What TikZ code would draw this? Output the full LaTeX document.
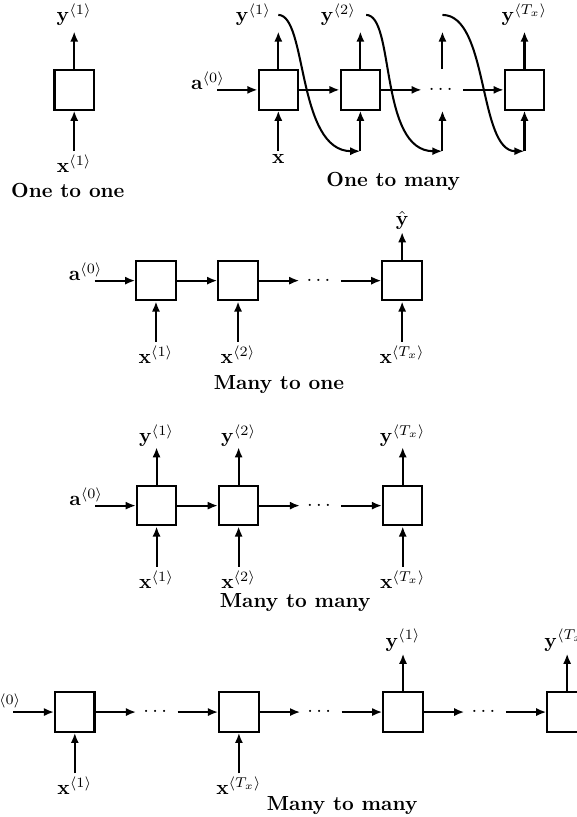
\documentclass[tikz,border=0pt]{standalone}
\usepackage{amsmath}
\usetikzlibrary{positioning,arrows.meta}

\begin{document}
\begin{tikzpicture}[node distance=7mm,
  cell/.style={draw, line width=1pt, minimum size=6.8mm, inner sep=0pt},
  ghost/.style={cell, draw=none},
  arr/.style={-{Latex[length=5pt, width=4pt]}, line width=1pt},
  xlab/.style={inner sep=1.5pt},
  ylab/.style={inner sep=2.5pt},
  title/.style={font=\bfseries, anchor=base},
  azero/.style={anchor=base east, xshift=2.6mm}]
\useasboundingbox (0,0) rectangle (9.95,-14.09);

% one to one
\node[cell] (oo) at (1.28,-1.55) {};
\node[ylab, above=6.5mm of oo] (ooy) {$\mathbf{y}^{\langle 1\rangle}$};
\node[xlab, below=7mm of oo] (oox) {$\mathbf{x}^{\langle 1\rangle}$};
\node[title] (ootitle) at (1.17,-3.40) {One to one};
\draw[arr] (oox) -- (oo);
\draw[arr] (oo) -- (ooy);

% one to many
\node[cell] (om1) at (4.80,-1.55) {};
\node[cell, right=of om1] (om2) {};
\node[ghost, right=of om2] (om3) {$\cdots$};
\node[cell, right=of om3] (om4) {};
\node[ghost, left=of om1] (om0) {};
\node[azero] (oma) at (om0.east) {$\mathbf{a}^{\langle 0\rangle}$};
\node[ylab, above=6.5mm of om1, xshift=-4.3mm] (omy1) {$\mathbf{y}^{\langle 1\rangle}$};
\node[ylab, above=6.5mm of om2, xshift=-3.8mm] (omy2) {$\mathbf{y}^{\langle 2\rangle}$};
\node[ylab, above=6.5mm of om4] (omy4) {$\mathbf{y}^{\langle T_x\rangle}$};
\node[xlab, below=7mm of om1] (omx) {$\mathbf{x}$};
\coordinate[below=7mm of om2] (omb2);
\coordinate[below=7mm of om3] (omb3);
\coordinate[below=7mm of om4] (omb4);
\node[title] (omtitle) at (6.78,-3.22) {One to many};
\draw[arr] (om0) -- (om1);
\draw[arr] (om1) -- (om2);
\draw[arr] (om2) -- (om3);
\draw[arr] (om3) -- (om4);
\draw[arr] (omx) -- (om1);
\draw[arr] (omb2) -- (om2);
\draw[arr] (omb3) -- (om3);
\draw[arr] (omb4) -- (om4);
\draw[arr] (om1) -- (om1 |- omy1.south);
\draw[arr] (om2) -- (om2 |- omy2.south);
\draw[arr] (om3) -- (om3 |- omy4.south);
\draw[arr] (om4) -- (omy4);
% feedback of each output into the next step
\draw[arr] (om1 |- omy1) to[out=0, in=180, out distance=5mm, in distance=11mm] (omb2);
\draw[arr] ([xshift=1mm]om2 |- omy1) to[out=0, in=180, out distance=5mm, in distance=11mm] (omb3);
\draw[arr] (om3 |- omy1) to[out=0, in=180, out distance=8mm, in distance=8mm] (omb4);

% many to one
\node[cell] (mo1) at (2.69,-4.84) {};
\node[cell, right=of mo1] (mo2) {};
\node[ghost, right=of mo2] (mo3) {$\cdots$};
\node[cell, right=of mo3] (mo4) {};
\node[ghost, left=of mo1] (mo0) {};
\node[azero] (moa) at (mo0.east) {$\mathbf{a}^{\langle 0\rangle}$};
\node[xlab, below=7mm of mo1] (mox1) {$\mathbf{x}^{\langle 1\rangle}$};
\node[xlab, below=7mm of mo2] (mox2) {$\mathbf{x}^{\langle 2\rangle}$};
\node[xlab, below=7mm of mo4] (mox4) {$\mathbf{x}^{\langle T_x\rangle}$};
\node[above=4.8mm of mo4, inner sep=1pt] (moy) {$\hat{\mathbf{y}}$};
\node[title] (motitle) at (4.81,-6.72) {Many to one};
\draw[arr] (mo0) -- (mo1);
\draw[arr] (mo1) -- (mo2);
\draw[arr] (mo2) -- (mo3);
\draw[arr] (mo3) -- (mo4);
\draw[arr] (mox1) -- (mo1);
\draw[arr] (mox2) -- (mo2);
\draw[arr] (mox4) -- (mo4);
\draw[arr] (mo4) -- (moy);

% many to many, same length
\node[cell] (ma1) at (2.70,-8.72) {};
\node[cell, right=of ma1] (ma2) {};
\node[ghost, right=of ma2] (ma3) {$\cdots$};
\node[cell, right=of ma3] (ma4) {};
\node[ghost, left=of ma1] (ma0) {};
\node[azero] (maa) at (ma0.east) {$\mathbf{a}^{\langle 0\rangle}$};
\node[xlab, below=7mm of ma1] (max1) {$\mathbf{x}^{\langle 1\rangle}$};
\node[xlab, below=7mm of ma2] (max2) {$\mathbf{x}^{\langle 2\rangle}$};
\node[xlab, below=7mm of ma4] (max4) {$\mathbf{x}^{\langle T_x\rangle}$};
\node[ylab, above=6.5mm of ma1, inner sep=0pt] (may1) {$\mathbf{y}^{\langle 1\rangle}$};
\node[ylab, above=6.5mm of ma2, inner sep=0pt] (may2) {$\mathbf{y}^{\langle 2\rangle}$};
\node[ylab, above=6.5mm of ma4, inner sep=0pt] (may4) {$\mathbf{y}^{\langle T_x\rangle}$};
\node[title] (matitle) at (5.09,-10.47) {Many to many};
\draw[arr] (ma0) -- (ma1);
\draw[arr] (ma1) -- (ma2);
\draw[arr] (ma2) -- (ma3);
\draw[arr] (ma3) -- (ma4);
\draw[arr] (max1) -- (ma1);
\draw[arr] (max2) -- (ma2);
\draw[arr] (max4) -- (ma4);
\draw[arr] (ma1) -- (may1);
\draw[arr] (ma2) -- (may2);
\draw[arr] (ma4) -- (may4);

% many to many, encoder then decoder
\node[cell] (mb1) at (1.29,-12.28) {};
\node[ghost, right=of mb1] (mb2) {$\cdots$};
\node[cell, right=of mb2] (mb3) {};
\node[ghost, right=of mb3] (mb4) {$\cdots$};
\node[cell, right=of mb4] (mb5) {};
\node[ghost, right=of mb5] (mb6) {$\cdots$};
\node[cell, right=of mb6] (mb7) {};
\node[ghost, left=of mb1] (mb0) {};
\node[azero] (mba) at (mb0.east) {$\mathbf{a}^{\langle 0\rangle}$};
\node[xlab, below=7mm of mb1] (mbx1) {$\mathbf{x}^{\langle 1\rangle}$};
\node[xlab, below=7mm of mb3] (mbx3) {$\mathbf{x}^{\langle T_x\rangle}$};
\node[ylab, above=6.5mm of mb5, inner sep=1pt] (mby5) {$\mathbf{y}^{\langle 1\rangle}$};
\node[ylab, above=6.5mm of mb7, inner sep=1pt] (mby7) {$\mathbf{y}^{\langle T_x\rangle}$};
\node[title] (mbtitle) at (5.90,-13.97) {Many to many};
\draw[arr] (mb0) -- (mb1);
\draw[arr] (mb1) -- (mb2);
\draw[arr] (mb2) -- (mb3);
\draw[arr] (mb3) -- (mb4);
\draw[arr] (mb4) -- (mb5);
\draw[arr] (mb5) -- (mb6);
\draw[arr] (mb6) -- (mb7);
\draw[arr] (mbx1) -- (mb1);
\draw[arr] (mbx3) -- (mb3);
\draw[arr] (mb5) -- (mby5);
\draw[arr] (mb7) -- (mby7);
\end{tikzpicture}
\end{document}
